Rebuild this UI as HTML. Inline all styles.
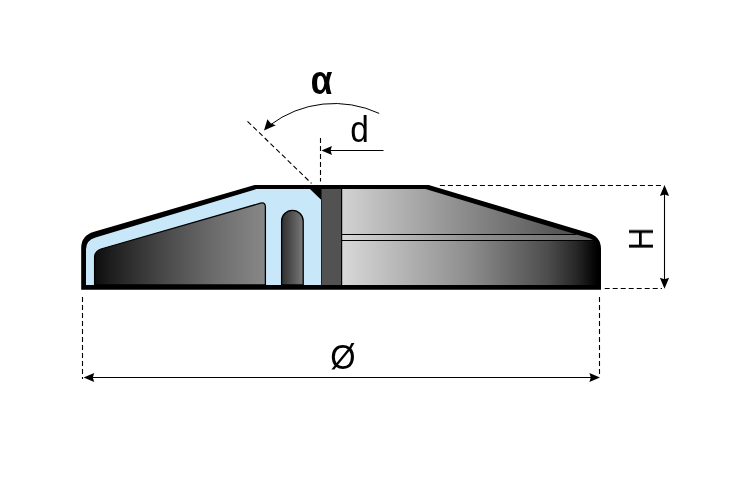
<!DOCTYPE html>
<html><head><meta charset="utf-8"><title>Drawing</title>
<style>
html,body{margin:0;padding:0;background:#fff;}
svg{display:block;}
text{font-family:"Liberation Sans",sans-serif;fill:#000;}
</style></head><body>
<svg width="734" height="502" viewBox="0 0 734 502">
<defs>
<linearGradient id="gL" gradientUnits="userSpaceOnUse" x1="94" y1="0" x2="266" y2="0">
<stop offset="0" stop-color="#0c0c0c"/><stop offset="0.1" stop-color="#1e1e1e"/><stop offset="0.4" stop-color="#484848"/><stop offset="0.7" stop-color="#6c6c6c"/><stop offset="1" stop-color="#888888"/>
</linearGradient>
<linearGradient id="gS" gradientUnits="userSpaceOnUse" x1="281" y1="0" x2="304" y2="0">
<stop offset="0" stop-color="#2c2c2c"/><stop offset="1" stop-color="#7c7c7c"/>
</linearGradient>
<linearGradient id="gU" gradientUnits="userSpaceOnUse" x1="342" y1="0" x2="600" y2="0">
<stop offset="0" stop-color="#d2d2d2"/><stop offset="0.5" stop-color="#888888"/><stop offset="1" stop-color="#404040"/>
</linearGradient>
<linearGradient id="gB" gradientUnits="userSpaceOnUse" x1="342" y1="0" x2="600" y2="0">
<stop offset="0" stop-color="#d8d8d8"/><stop offset="0.5" stop-color="#929292"/><stop offset="1" stop-color="#686868"/>
</linearGradient>
<linearGradient id="gD" gradientUnits="userSpaceOnUse" x1="342" y1="0" x2="600" y2="0">
<stop offset="0" stop-color="#d8d8d8"/><stop offset="0.5" stop-color="#8c8c8c"/><stop offset="0.8" stop-color="#4c4c4c"/><stop offset="0.91" stop-color="#262626"/><stop offset="0.985" stop-color="#020202"/><stop offset="1" stop-color="#000"/>
</linearGradient>
<clipPath id="inR"><path d="M342 189 L425.5 189 L590 238.6 Q597 241 597 248 L597 285 L342 285 Z"/></clipPath>
</defs>
<rect width="734" height="502" fill="#fff"/>
<!-- outer body -->
<path d="M81.2 289.8 L81.2 248 Q81.2 235.5 94 231.8 L254.6 184.9 L428.7 184.9 L588 232.8 Q601 236.5 601 249 L601 289.8 Z" fill="#000"/>
<!-- blue section -->
<path d="M86 285 L86 249.5 Q86 240 95.5 237.4 L256.5 189 L310 189 L321.5 200 L321.5 285 Z" fill="#c8e8fa"/>
<!-- left dark cavity -->
<path d="M94.6 285 L94.6 257.6 Q94.6 251.2 101 249 L260.5 203.2 Q265.4 201.9 265.4 206.7 L265.4 285 Z" fill="url(#gL)" stroke="#000" stroke-width="1.3"/>
<!-- slot -->
<path d="M281.6 285 L281.6 221.1 A10.8 10.8 0 0 1 303.2 221.1 L303.2 285 Z" fill="url(#gS)" stroke="#000" stroke-width="1.3"/>
<!-- chamfer -->
<path d="M309.5 188 L322 188 L322 200.5 Z" fill="#000"/>
<!-- dark column -->
<rect x="321.5" y="189" width="20.5" height="96" fill="#525252"/>
<line x1="321.5" y1="199" x2="321.5" y2="285" stroke="#222" stroke-width="1"/>
<!-- right body -->
<g clip-path="url(#inR)">
<rect x="342" y="189" width="260" height="46" fill="url(#gU)"/>
<rect x="342" y="234.5" width="260" height="5.7" fill="url(#gB)"/>
<rect x="342" y="240" width="260" height="45" fill="url(#gD)"/>
<line x1="342" y1="234.5" x2="600" y2="234.5" stroke="#000" stroke-width="1.1"/>
<line x1="342" y1="240.5" x2="600" y2="240.5" stroke="#000" stroke-width="1.1"/>
</g>
<line x1="341.6" y1="189" x2="341.6" y2="285" stroke="#000" stroke-width="1.2"/>
<!-- dimension lines -->
<g stroke="#000" stroke-width="1.1" fill="none">
<line x1="439.9" y1="185.5" x2="661.5" y2="185.5" stroke-dasharray="5 3"/>
<line x1="604.7" y1="288.5" x2="662" y2="288.5" stroke-dasharray="5 3"/>
<line x1="82.5" y1="297" x2="82.5" y2="379" stroke-dasharray="5 3"/>
<line x1="599.5" y1="297" x2="599.5" y2="377" stroke-dasharray="5 3"/>
<line x1="320.5" y1="138" x2="320.5" y2="181.5" stroke-dasharray="5 3"/>
<line x1="247.5" y1="121.3" x2="311.5" y2="183.4" stroke-dasharray="5 3"/>
<line x1="90" y1="377.5" x2="593" y2="377.5"/>
<line x1="664.5" y1="192" x2="664.5" y2="282"/>
<line x1="329" y1="150.5" x2="383.5" y2="150.5"/>
<path d="M379.2 113.4 A106.5 106.5 0 0 0 270 125.1" stroke-width="1"/>
</g>
<!-- arrowheads -->
<g fill="#000">
<path d="M83.6 377.5 L94.2 372.9 L92.8 377.5 L94.2 382.1 Z"/>
<path d="M600 377.5 L589.4 372.9 L590.8 377.5 L589.4 382.1 Z"/>
<path d="M664.5 185 L659.9 195.9 L664.5 194.5 L669.1 195.9 Z"/>
<path d="M664.5 288.7 L659.9 277.8 L664.5 279.2 L669.1 277.8 Z"/>
<path d="M321.5 150.5 L331.9 146 L330.6 150.5 L331.9 155 Z"/>
<path d="M264 130.4 L267.4 119.2 L270.9 123.4 L275.8 125.3 Z"/>
</g>
<!-- labels -->
<g opacity="0.999">
<text transform="translate(321.5 93.5) scale(0.89 1)" font-size="40" font-weight="bold" text-anchor="middle" style="font-family:'Liberation Mono',monospace">α</text>
<text transform="translate(359.5 141.8) scale(0.92 1)" font-size="36.4" text-anchor="middle">d</text>
<text transform="translate(343 368.6) scale(0.93 1)" font-size="35" text-anchor="middle">Ø</text>
<text transform="translate(653 238.85) rotate(-90) scale(0.91 1)" font-size="34.5" text-anchor="middle">H</text>
</g>
</svg>
</body></html>
